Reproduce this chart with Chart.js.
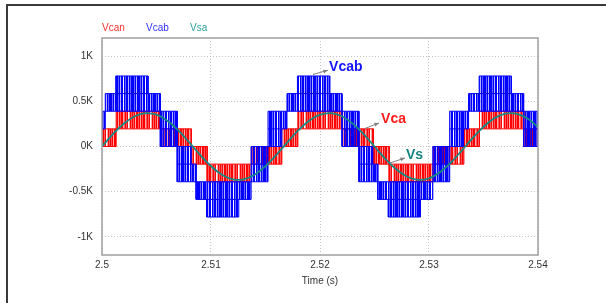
<!DOCTYPE html>
<html>
<head>
<meta charset="utf-8">
<script src="https://cdn.jsdelivr.net/npm/chart.js@4.4.1/dist/chart.umd.min.js"></script>
<style>
  body { margin: 0; background: #fff; overflow: hidden; }
  #box { position: relative; width: 606px; height: 303px; }
</style>
</head>
<body>
<div id="box"><canvas id="waveChart"></canvas></div>
<script>
// axis ticks
const xTicks = [2.5, 2.51, 2.52, 2.53, 2.54];
const xTickLabels = ["2.5", "2.51", "2.52", "2.53", "2.54"];
const yTicks = [-1000, -500, 0, 500, 1000];
const yTickLabels = ["-1K", "-0.5K", "0K", "0.5K", "1K"];

// Vcan: switching band edges (s) and the low / high level of each band (V)
const vcanTimes = [2.5, 2.5013, 2.5054, 2.5082, 2.50965, 2.5137, 2.5165, 2.51797, 2.52207,
  2.5249, 2.52635, 2.5304, 2.5332, 2.53463, 2.5387, 2.54];
const vcanLow = [0, 195, 0, -195, -390, -195, 0, 195, 0, -195, -390, -195, 0, 195, 0];
const vcanHigh = [195, 390, 195, 0, -195, 0, 195, 390, 195, 0, -195, 0, 195, 390, 195];

// Vcab: same idea, line-to-line voltage
const vcabTimes = [2.5, 2.5003, 2.50126, 2.50422, 2.50535, 2.5069, 2.50816, 2.50863, 2.5096,
  2.51255, 2.51368, 2.51523, 2.5165, 2.51697, 2.51793, 2.52089, 2.52202, 2.52357, 2.52483,
  2.5253, 2.52627, 2.52922, 2.53035, 2.5319, 2.53317, 2.53363, 2.5346, 2.53755, 2.53868, 2.54];
const vcabLow = [195, 390, 390, 390, 0, -390, -390, -585, -780, -585, -390, 0, 195, 390, 390,
  390, 0, -390, -390, -585, -780, -585, -390, 0, 195, 390, 390, 390, 0];
const vcabHigh = [390, 585, 780, 585, 390, 0, -195, -390, -390, -390, 0, 390, 390, 585, 780,
  585, 390, 0, -195, -390, -390, -390, 0, 390, 390, 585, 780, 585, 390];

// Vsa sampled every 1 ms
const vsaTimes = [2.5, 2.501, 2.502, 2.503, 2.504, 2.505, 2.506, 2.507, 2.508, 2.509, 2.51,
  2.511, 2.512, 2.513, 2.514, 2.515, 2.516, 2.517, 2.518, 2.519, 2.52, 2.521, 2.522, 2.523,
  2.524, 2.525, 2.526, 2.527, 2.528, 2.529, 2.53, 2.531, 2.532, 2.533, 2.534, 2.535, 2.536,
  2.537, 2.538, 2.539, 2.54];
const vsaValues = [0, 136, 253, 335, 369, 352, 285, 178, 46, -92, -217, -312, -363, -363, -312,
  -217, -92, 46, 178, 285, 352, 369, 335, 253, 136, 0, -136, -253, -335, -369, -352, -285,
  -178, -46, 92, 217, 312, 363, 363, 312, 217];

const legendNames = ["Vcan", "Vcab", "Vsa"];

// text call-outs on the plot, in data units
const notes = [
  { text: "Vcab", color: "#1414ff", at: [2.52083, 878], from: [2.51936, 797], to: [2.52073, 843] },
  { text: "Vca", color: "#ff1a1a", at: [2.5256, 308], from: [2.52413, 199], to: [2.52541, 261] },
  { text: "Vs", color: "#138480", at: [2.52789, -95], from: [2.52642, -182], to: [2.5278, -127] },
];

const RED = "#ff0000";
const BLUE = "#0000ff";
const TEAL = "#138a84";
const FONT = "'Liberation Sans', Arial, sans-serif";

// vertical stripes standing in for the PWM switching lines
function stripes(cols, full, half, light) {
  const c = document.createElement("canvas");
  c.width = cols.length;
  c.height = 8;
  const g = c.getContext("2d");
  cols.split("").forEach((ch, i) => {
    if (ch === ".") return;
    g.fillStyle = ch === "#" ? full : ch === "+" ? half : light;
    g.fillRect(i, 0, 1, 8);
  });
  return g.createPattern(c, "repeat");
}

function edge(times, levels) {
  const pts = [];
  levels.forEach((v, i) => {
    pts.push({ x: times[i], y: v }, { x: times[i + 1], y: v });
  });
  return pts;
}

// inner level line where a band covers two steps
function midEdge(times, lo, hi) {
  const pts = [];
  lo.forEach((v, i) => {
    if (hi[i] - v > 200) {
      const m = (hi[i] + v) / 2;
      pts.push({ x: times[i], y: m }, { x: times[i + 1], y: m }, { x: times[i + 1], y: null });
    }
  });
  return pts;
}

const redFill = stripes("#+#-##+#-#+##-+#+#.-#+", "rgba(255,0,0,1)", "rgba(255,0,0,0.65)", "rgba(255,0,0,0.35)");
const blueFill = stripes("##+#-###+#-##.#+##-#+#", "rgba(0,0,255,1)", "rgba(0,0,255,0.6)", "rgba(0,0,255,0.3)");

const decor = {
  id: "decor",
  beforeDraw(chart) {
    const { ctx, width, height } = chart;
    ctx.save();
    ctx.strokeStyle = "#3a3a3a";
    ctx.lineWidth = 2;
    ctx.beginPath();
    ctx.moveTo(7, height);
    ctx.lineTo(7, 5);
    ctx.lineTo(width, 5);
    ctx.stroke();
    ctx.restore();
  },
  afterDatasetsDraw(chart) {
    const { ctx, chartArea: a, scales } = chart;
    ctx.save();
    ctx.strokeStyle = "#a0a0a0";
    ctx.lineWidth = 1.5;
    ctx.strokeRect(a.left, a.top, a.right - a.left, a.bottom - a.top);

    notes.forEach((n) => {
      const x1 = scales.x.getPixelForValue(n.from[0]);
      const y1 = scales.y.getPixelForValue(n.from[1]);
      const x2 = scales.x.getPixelForValue(n.to[0]);
      const y2 = scales.y.getPixelForValue(n.to[1]);
      ctx.strokeStyle = "#808080";
      ctx.fillStyle = "#808080";
      ctx.lineWidth = 1;
      ctx.beginPath();
      ctx.moveTo(x1, y1);
      ctx.lineTo(x2, y2);
      ctx.stroke();
      const ang = Math.atan2(y2 - y1, x2 - x1);
      ctx.beginPath();
      ctx.moveTo(x2, y2);
      ctx.lineTo(x2 - 5 * Math.cos(ang - 0.4), y2 - 5 * Math.sin(ang - 0.4));
      ctx.lineTo(x2 - 5 * Math.cos(ang + 0.4), y2 - 5 * Math.sin(ang + 0.4));
      ctx.closePath();
      ctx.fill();

      ctx.font = "bold 14px " + FONT;
      ctx.fillStyle = n.color;
      ctx.textAlign = "left";
      ctx.textBaseline = "middle";
      ctx.fillText(n.text, scales.x.getPixelForValue(n.at[0]), scales.y.getPixelForValue(n.at[1]));
    });

    // legend row above the plot
    const legendColors = ["#ff3030", "#3030ff", "#30a0a0"];
    ctx.font = "10px " + FONT;
    ctx.textBaseline = "middle";
    legendNames.forEach((name, i) => {
      ctx.fillStyle = legendColors[i];
      ctx.fillText(name, a.left + i * 44, 28);
    });
    ctx.restore();
  },
};

const band = { borderWidth: 1, pointRadius: 0, tension: 0 };

new Chart(document.getElementById("waveChart"), {
  type: "line",
  data: {
    datasets: [
      {
        label: "Vsa",
        data: vsaTimes.map((t, i) => ({ x: t, y: vsaValues[i] })),
        borderColor: TEAL,
        borderWidth: 1.8,
        tension: 0.4,
        pointRadius: 0,
        order: 0,
      },
      { ...band, label: "Vcab", data: edge(vcabTimes, vcabHigh), borderColor: BLUE,
        backgroundColor: blueFill, fill: "+1", order: 3 },
      { ...band, label: "Vcab low", data: edge(vcabTimes, vcabLow), borderColor: BLUE, order: 2 },
      { ...band, label: "Vcab mid", data: midEdge(vcabTimes, vcabLow, vcabHigh), borderColor: BLUE, order: 1 },
      { ...band, label: "Vcan", data: edge(vcanTimes, vcanHigh), borderColor: RED,
        backgroundColor: redFill, fill: "+1", order: 5 },
      { ...band, label: "Vcan low", data: edge(vcanTimes, vcanLow), borderColor: RED, order: 4 },
    ],
  },
  options: {
    responsive: true,
    maintainAspectRatio: false,
    animation: false,
    layout: { padding: { left: 0, right: 68, top: 38, bottom: 16 } },
    plugins: { legend: { display: false }, tooltip: { enabled: false } },
    scales: {
      x: {
        type: "linear",
        min: 2.5,
        max: 2.54,
        afterBuildTicks: (axis) => { axis.ticks = xTicks.map((v) => ({ value: v })); },
        ticks: {
          color: "#333",
          font: { size: 10, family: FONT },
          padding: 4,
          maxRotation: 0,
          callback: (v, i) => xTickLabels[i],
        },
        grid: { color: "#c4c4c4", drawTicks: false },
        border: { display: false, dash: [1, 2] },
        title: {
          display: true,
          text: "Time (s)",
          color: "#333",
          font: { size: 10, family: FONT },
          padding: { top: 0, bottom: 0 },
        },
      },
      y: {
        min: -1200,
        max: 1200,
        afterFit: (axis) => { axis.width = 102; },
        afterBuildTicks: (axis) => { axis.ticks = yTicks.map((v) => ({ value: v })); },
        ticks: {
          color: "#333",
          font: { size: 10, family: FONT },
          padding: 9,
          callback: (v, i) => yTickLabels[i],
        },
        grid: { color: "#c4c4c4", drawTicks: false },
        border: { display: false, dash: [1, 2] },
      },
    },
  },
  plugins: [decor],
});
</script>
</body>
</html>
